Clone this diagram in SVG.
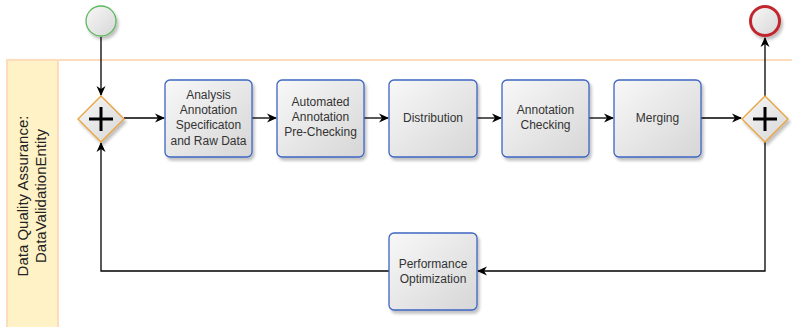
<svg xmlns="http://www.w3.org/2000/svg" width="792" height="327" viewBox="0 0 792 327">
<style>
.task rect{fill:url(#tg);stroke:#3d65c2;stroke-width:1.3;filter:url(#sh)}
.task text,.lbl{font-family:"Liberation Sans",Arial,sans-serif;font-size:12px;fill:#333;text-anchor:middle}
.lbl{font-size:15px;fill:#222}
.gw path.d{fill:url(#tg);stroke:#e8a33a;stroke-width:1.3;filter:url(#sh)}
.gw path.p{stroke:#000;stroke-width:3;fill:none}
.edge{fill:none;stroke:#000;stroke-width:1.3}
</style>
<defs>
<linearGradient id="tg" x1="0" y1="0" x2="1" y2="1">
<stop offset="0" stop-color="#f8f8f8"/><stop offset="1" stop-color="#d6d6d6"/>
</linearGradient>
<filter id="sh" x="-20%" y="-20%" width="150%" height="150%">
<feGaussianBlur in="SourceAlpha" stdDeviation="1.5"/>
<feOffset dx="2" dy="3" result="o"/>
<feComponentTransfer><feFuncA type="linear" slope="0.25"/></feComponentTransfer>
<feMerge><feMergeNode/><feMergeNode in="SourceGraphic"/></feMerge>
</filter>
<marker id="ar" viewBox="0 0 10 10" refX="9" refY="5" markerWidth="10" markerHeight="10" markerUnits="userSpaceOnUse" orient="auto">
<path d="M0,0.5 L10,5 L0,9.5 L3,5 Z" fill="#000"/>
</marker>
</defs>
<g id="lane">
<rect x="7" y="60" width="800" height="280" fill="#fff" stroke="#fcdcbc" stroke-width="2"/>
<rect x="7" y="60" width="51" height="280" fill="#fff2c6" stroke="#fcdcbc" stroke-width="2"/>
<text class="lbl" transform="translate(28,196) rotate(-90)">Data Quality Assurance:</text>
<text class="lbl" transform="translate(46,196) rotate(-90)">DataValidationEntity</text>
</g>
<g id="edges">
<path class="edge" d="M101,37 V95" marker-end="url(#ar)"/>
<path class="edge" d="M124,118 H164" marker-end="url(#ar)"/>
<path class="edge" d="M252,118 H276" marker-end="url(#ar)"/>
<path class="edge" d="M364,118 H388" marker-end="url(#ar)"/>
<path class="edge" d="M477,118 H501" marker-end="url(#ar)"/>
<path class="edge" d="M589,118 H613" marker-end="url(#ar)"/>
<path class="edge" d="M701,118 H741" marker-end="url(#ar)"/>
<path class="edge" d="M765,96 V38" marker-end="url(#ar)"/>
<path class="edge" d="M765,142 V271 H478" marker-end="url(#ar)"/>
<path class="edge" d="M389,271 H101 V143" marker-end="url(#ar)"/>
</g>
<g id="start">
<circle cx="101" cy="21" r="15" fill="url(#tg)" stroke="#5cb85c" stroke-width="1.3" filter="url(#sh)"/>
</g>
<g id="end">
<circle cx="765" cy="21" r="14.5" fill="url(#tg)" stroke="#c1272d" stroke-width="3" filter="url(#sh)"/>
</g>
<g id="gw1" class="gw">
<path class="d" d="M101,96 L124,119 L101,142 L78,119 Z"/>
<path class="p" d="M101,107 V131 M89,119 H113"/>
</g>
<g id="gw2" class="gw">
<path class="d" d="M765,96 L788,119 L765,142 L742,119 Z"/>
<path class="p" d="M765,107 V131 M753,119 H777"/>
</g>
<g id="t1" class="task">
<rect x="165" y="80" width="87" height="77" rx="5"/>
<text x="208.5" y="99">Analysis</text>
<text x="208.5" y="114">Annotation</text>
<text x="208.5" y="129">Specificaton</text>
<text x="208.5" y="145">and Raw Data</text>
</g>
<g id="t2" class="task">
<rect x="277" y="80" width="87" height="77" rx="5"/>
<text x="320.5" y="106">Automated</text>
<text x="320.5" y="121">Annotation</text>
<text x="320.5" y="136">Pre-Checking</text>
</g>
<g id="t3" class="task">
<rect x="389" y="80" width="88" height="77" rx="5"/>
<text x="433" y="122">Distribution</text>
</g>
<g id="t4" class="task">
<rect x="502" y="80" width="87" height="77" rx="5"/>
<text x="545.5" y="114">Annotation</text>
<text x="545.5" y="129">Checking</text>
</g>
<g id="t5" class="task">
<rect x="614" y="80" width="87" height="77" rx="5"/>
<text x="657.5" y="122">Merging</text>
</g>
<g id="t6" class="task">
<rect x="389" y="233" width="88" height="77" rx="5"/>
<text x="433" y="268">Performance</text>
<text x="433" y="283">Optimization</text>
</g>
</svg>
